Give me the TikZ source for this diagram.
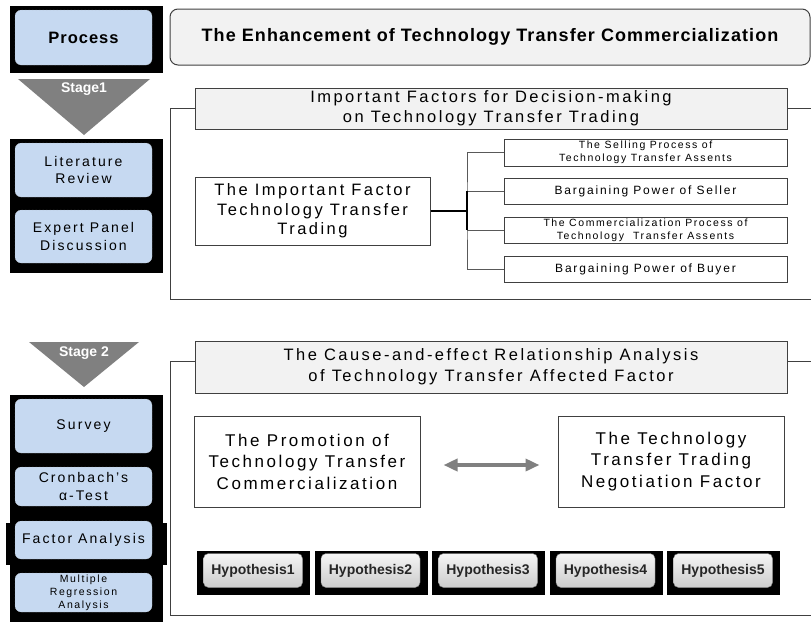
\documentclass[tikz,border=0pt]{standalone}
\usepackage{fontspec}
\setmainfont{Liberation Sans}
\newfontfamily\tracked[LetterSpace=15]{Liberation Sans}
\newfontfamily\snug[LetterSpace=6]{Liberation Sans}
\usetikzlibrary{arrows.meta,positioning}
\definecolor{paleblue}{HTML}{C6D9F1}
\definecolor{headgray}{HTML}{F2F2F2}
\definecolor{edgegray}{HTML}{404040}
\definecolor{stagegray}{HTML}{808080}

\begin{document}
\begin{tikzpicture}[x=1pt,y=-1pt]
  \tikzset{
    panel/.style={fill=black,inner sep=0pt},
    stepbox/.style={draw=gray!70,densely dotted,fill=paleblue,rounded corners=6pt,align=center,inner sep=0pt,
      minimum width=137pt,font=\tracked\fontsize{14}{17.5}\selectfont},
    stagelabel/.style={text=white,font=\bfseries\fontsize{14}{16}\selectfont,inner sep=0pt},
    banner/.style={draw=edgegray,fill=headgray,line width=1pt,align=center,inner sep=0pt,
      minimum width=592pt,font=\tracked\fontsize{16.5}{20}\selectfont},
    frame/.style={draw=edgegray,line width=1pt},
    factor/.style={draw=edgegray,fill=white,line width=1pt,align=center,inner sep=0pt,
      font=\tracked\fontsize{16.5}{19.5}\selectfont},
    item/.style={draw=edgegray,fill=white,line width=1pt,align=center,inner sep=0pt,
      minimum width=283pt,minimum height=26pt},
    branch/.style={draw=black!65,line width=0.8pt},
    hypoback/.style={fill=black,inner sep=0pt,minimum width=113pt,minimum height=44pt},
    hypo/.style={draw=gray,rounded corners=5pt,top color=gray!8,bottom color=gray!40,inner sep=0pt,
      minimum width=99pt,minimum height=34pt,font=\bfseries\fontsize{14}{16}\selectfont,text=black!85}
  }
  \useasboundingbox (0,0) rectangle (811,622);

  % heading row
  \node[panel,minimum width=153pt,minimum height=67pt] (procback) at (86.5,39.5) {};
  \node[stepbox,minimum height=55pt,font=\bfseries\snug\fontsize{16.5}{18}\selectfont] (process) at (83.5,37.5) {Process};
  \node[draw=edgegray,fill=headgray,line width=1pt,rounded corners=8pt,minimum width=640pt,minimum height=56pt,
    inner sep=0pt,font=\bfseries\snug\fontsize{18}{20}\selectfont] (title) at (490,37)
    {The Enhancement of Technology Transfer Commercialization};

  % stage 1
  \fill[stagegray] (18,79) -- (150,79) -- (84,135) -- cycle;
  \node[stagelabel] (stage1) at (84,89) {Stage1};
  \node[panel,minimum width=153pt,minimum height=134pt] (panel1) at (86.5,206) {};
  \node[stepbox,minimum height=54pt] (lit) at (83.5,170) {Literature\\Review};
  \node[stepbox,minimum height=53pt] (expert) at (83.5,236.5) {Expert Panel\\Discussion};

  \node[banner,minimum height=41pt] (head1) at (491,108.5)
    {Important Factors for Decision-making\\on Technology Transfer Trading};
  \draw[frame] (head1.west) -- (170,108.5) -- (170,299) -- (811,299);
  \draw[frame] (head1.east) -- (811,108.5);

  \node[factor,minimum width=235pt,minimum height=68pt] (imp) at (312.5,211)
    {The Important Factor\\Technology Transfer\\Trading};
  \node[item,minimum height=27pt,font=\tracked\fontsize{10.5}{12.7}\selectfont] (item1) at (645.5,152.5)
    {The Selling Process of\\Technology Transfer Assents};
  \node[item,font=\tracked\fontsize{12}{14}\selectfont] (item2) at (645.5,191) {Bargaining Power of Seller};
  \node[item,font=\tracked\fontsize{10.5}{12.7}\selectfont] (item3) at (645.5,230)
    {The Commercialization Process of\\Technology\ \ Transfer Assents};
  \node[item,font=\tracked\fontsize{12}{14}\selectfont] (item4) at (645.5,269) {Bargaining Power of Buyer};

  \coordinate (hub) at (467,211);
  \draw[line width=2pt] (imp.east) -- (hub);
  \draw[branch] (item1.west) -| (hub) |- (item4.west);
  \draw[branch] (hub) |- (item2.west);
  \draw[branch] (hub) |- (item3.west);
  \draw[line width=2pt] (hub |- item2.west) -- (hub |- item3.west);

  % stage 2
  \fill[stagegray] (29,342) -- (139,342) -- (84,387) -- cycle;
  \node[stagelabel] (stage2) at (84,353) {Stage 2};
  \node[panel,minimum width=153pt,minimum height=227pt] (panel2) at (86.5,508.5) {};
  \node[panel,minimum width=161pt,minimum height=42pt] (panel2b) at (86.5,544) {};
  \node[stepbox,minimum height=54pt] (survey) at (83.5,426) {Survey};
  \node[stepbox,minimum height=39pt] (alpha) at (83.5,486.5) {Cronbach’s\\α-Test};
  \node[stepbox,minimum height=38pt] (factan) at (83.5,540) {Factor Analysis};
  \node[stepbox,minimum height=39pt,font=\tracked\fontsize{10.5}{13}\selectfont] (regress) at (83.5,592.5)
    {Multiple\\Regression\\Analysis};

  \node[banner,minimum height=52pt,font=\tracked\fontsize{16.5}{21}\selectfont] (head2) at (491,367)
    {The Cause-and-effect Relationship Analysis\\of Technology Transfer Affected Factor};
  \draw[frame] ([yshift=6pt]head2.west) -- (170,361) -- (170,615.5) -- (811,615.5);
  \draw[frame] ([yshift=6pt]head2.east) -- (811,361);

  \node[factor,minimum width=226pt,minimum height=91pt,font=\tracked\fontsize{17}{21.5}\selectfont] (promo) at (307,461.5)
    {The Promotion of\\Technology Transfer\\Commercialization};
  \node[factor,minimum width=226pt,minimum height=91pt,font=\tracked\fontsize{17}{21.5}\selectfont] (negot) at (671,461.5)
    {The Technology\\Transfer Trading\\Negotiation Factor};
  \draw[stagegray,line width=3.5pt,{Triangle[length=14pt,width=12pt]}-{Triangle[length=14pt,width=12pt]},
    shorten <=23pt,shorten >=18pt] ([yshift=-3.5pt]promo.east) -- ([yshift=-3.5pt]negot.west);

  \foreach \i in {1,...,5}{
    \node[hypoback] (hypback\i) at ({253.5+(\i-1)*117.5},572.5) {};
    \node[hypo] (hyp\i) at ({253+(\i-1)*117.5},570.5) {Hypothesis\i};
  }
\end{tikzpicture}
\end{document}
